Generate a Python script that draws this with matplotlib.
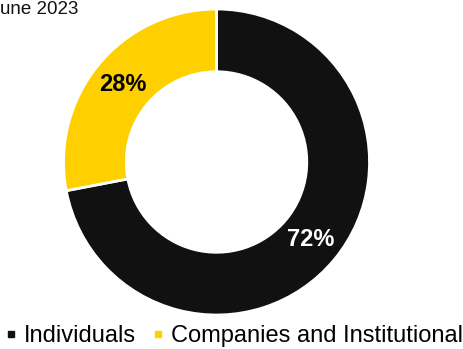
import matplotlib
matplotlib.use("Agg")
import matplotlib.pyplot as plt
from matplotlib.lines import Line2D

plt.rcParams['font.family'] = ['Liberation Sans', 'DejaVu Sans']

categories = ["Individuals", "Companies and Institutional"]
values = [72, 28]
colors = ["#111111", "#FFD000"]
label_colors = ["white", "black"]
title_text = "une 2023"

fig = plt.figure(figsize=(4.64, 3.49), dpi=100)
ax = fig.add_axes([0.1369, 0.0974, 0.6595, 0.8768])

wedges, texts, autotexts = ax.pie(
    values, colors=colors, startangle=90, counterclock=False,
    radius=1.0, wedgeprops=dict(width=0.41, edgecolor="white", linewidth=2),
    autopct=lambda p: f"{p:.0f}%", pctdistance=0.795,
)
for t, c in zip(autotexts, label_colors):
    t.set_color(c)
    t.set_fontsize(17)
    t.set_fontweight("bold")
ax.set_xlim(-1, 1)
ax.set_ylim(-1, 1)
ax.set_aspect("equal")
ax.axis("off")

fig.text(0.0, 335 / 349, title_text, ha="left", va="baseline", fontsize=13.5, color="#111111")

handles = [Line2D([], [], marker="s", linestyle="none", markersize=5,
                  markerfacecolor=c, markeredgecolor=c) for c in colors]
fig.legend(handles, categories, loc="lower center", bbox_to_anchor=(0.503, -0.043),
           ncol=2, frameon=False, fontsize=17, handlelength=0.6,
           handletextpad=0.25, columnspacing=0.6, borderpad=0.2)

fig.savefig("out.png", dpi=100)
